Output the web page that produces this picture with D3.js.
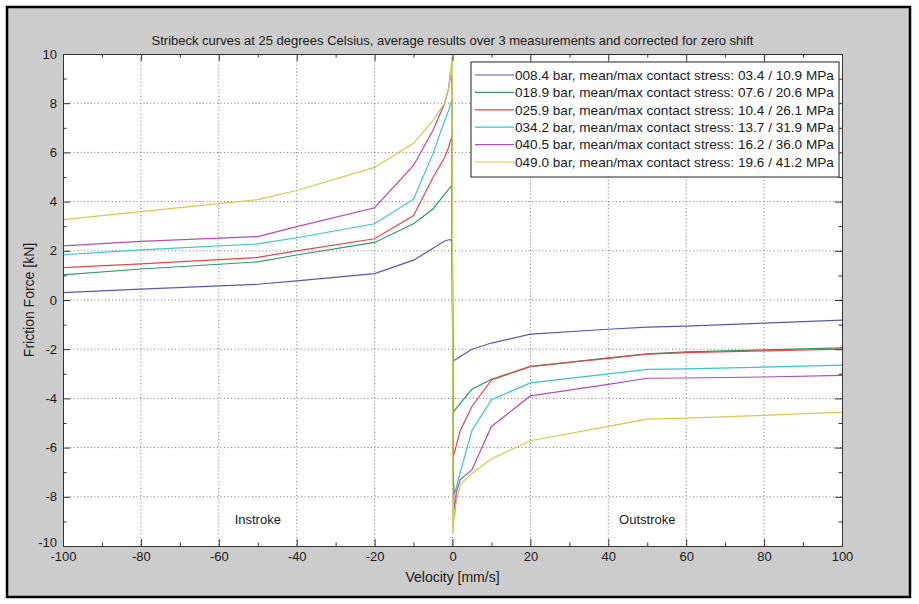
<!DOCTYPE html>
<html>
<head>
<meta charset="utf-8">
<script src="https://cdn.jsdelivr.net/npm/d3@7"></script>
<style>
  body { margin: 0; background: #fff; }
  svg text { font-family: "Liberation Sans", Arial, sans-serif; fill: #1a1a1a; }
</style>
</head>
<body>
<svg id="chart" width="919" height="604"></svg>
<script>
// measurement velocities [mm/s], shared by all six curves
var velocity = [-100, -80, -50, -40, -20, -10, -5, -2, -1, -0.5, -0.1,
                0.1, 0.5, 1, 2, 5, 10, 20, 40, 50, 60, 80, 100]

// friction force [kN] per pressure level
var f084 = [0.30, 0.44, 0.64, 0.78, 1.07, 1.62, 2.10, 2.40, 2.45, 2.45, 2.35,
            -2.45, -2.45, -2.40, -2.30, -2.00, -1.75, -1.39, -1.19, -1.10, -1.06, -0.94, -0.82]
var f189 = [1.02, 1.26, 1.55, 1.83, 2.34, 3.10, 3.70, 4.30, 4.50, 4.60, 4.65,
            -4.55, -4.50, -4.40, -4.20, -3.63, -3.22, -2.71, -2.35, -2.19, -2.11, -2.03, -1.95]
var f259 = [1.32, 1.47, 1.73, 2.00, 2.49, 3.43, 4.98, 5.80, 6.20, 6.50, 6.60,
            -6.40, -6.20, -5.90, -5.30, -4.33, -3.25, -2.70, -2.37, -2.20, -2.14, -2.07, -2.00]
var f342 = [1.84, 2.04, 2.28, 2.53, 3.10, 4.10, 5.95, 7.30, 7.70, 8.00, 8.10,
            -7.20, -7.90, -7.60, -7.00, -5.30, -4.05, -3.37, -3.00, -2.82, -2.80, -2.73, -2.65]
var f405 = [2.20, 2.38, 2.58, 2.98, 3.75, 5.47, 6.90, 8.00, 8.60, 9.30, 8.60,
            -6.50, -8.80, -7.80, -7.30, -6.90, -5.14, -3.90, -3.43, -3.18, -3.17, -3.13, -3.06]
var f490 = [3.27, 3.59, 4.08, 4.45, 5.39, 6.37, 7.30, 8.00, 8.60, 9.20, 9.90,
            -9.50, -8.60, -8.20, -7.50, -7.05, -6.45, -5.72, -5.14, -4.84, -4.80, -4.69, -4.56]

var legendLabels = [
  "008.4 bar, mean/max contact stress: 03.4 / 10.9 MPa",
  "018.9 bar, mean/max contact stress: 07.6 / 20.6 MPa",
  "025.9 bar, mean/max contact stress: 10.4 / 26.1 MPa",
  "034.2 bar, mean/max contact stress: 13.7 / 31.9 MPa",
  "040.5 bar, mean/max contact stress: 16.2 / 36.0 MPa",
  "049.0 bar, mean/max contact stress: 19.6 / 41.2 MPa"
]
var xTicks = [-100, -80, -60, -40, -20, 0, 20, 40, 60, 80, 100]
var yTicks = [-10, -8, -6, -4, -2, 0, 2, 4, 6, 8, 10]

var colors = ["#5858b4", "#2f9a62", "#e84646", "#35c6c6", "#b24cb6", "#cccc4c"]
var forces = [f084, f189, f259, f342, f405, f490]

var series = legendLabels.map(function(name, i) {
  return { name: name, color: colors[i],
           values: velocity.map(function(v, j) { return { v: v, f: forces[i][j] } }) }
})

var margin = { top: 54, left: 63 },
    width = 779,
    height = 492;

var x = d3.scaleLinear().domain([-100, 100]).range([0, width])
var y = d3.scaleLinear().domain([-10, 10]).range([height, 0])

// plain hyphen minus, like the original figure
var fmt = function(d) { return String(d) }

var svg = d3.select('#chart')

// figure frame
svg.append("rect")
  .attr("x", 7).attr("y", 7)
  .attr("width", 903).attr("height", 590)
  .style("fill", "#cccccc")
  .style("stroke", "#000")
  .style("stroke-width", 2.5)

svg.append("text")
  .attr("x", margin.left + width / 2)
  .attr("y", 45)
  .attr("text-anchor", "middle")
  .style("font-size", "13px")
  .text("Stribeck curves at 25 degrees Celsius, average results over 3 measurements and corrected for zero shift")

var g = svg.append("g").attr("transform", "translate(" + margin.left + "," + margin.top + ")")

g.append("rect")
  .attr("width", width).attr("height", height)
  .style("fill", "#fff")

// dotted grid
g.selectAll(".gx").data(xTicks.slice(1, -1)).enter().append("line")
  .attr("x1", function(d) { return x(d) }).attr("x2", function(d) { return x(d) })
  .attr("y1", 0).attr("y2", height)
  .style("stroke", "#777").style("stroke-dasharray", "1,2.5")
g.selectAll(".gy").data(yTicks.slice(1, -1)).enter().append("line")
  .attr("y1", function(d) { return y(d) }).attr("y2", function(d) { return y(d) })
  .attr("x1", 0).attr("x2", width)
  .style("stroke", "#777").style("stroke-dasharray", "1,2.5")

var line = d3.line()
  .x(function(d) { return x(d.v) })
  .y(function(d) { return y(d.f) })

g.selectAll(".curve").data(series).enter().append("path")
  .attr("d", function(d) { return line(d.values) })
  .style("fill", "none")
  .style("stroke", function(d) { return d.color })
  .style("stroke-width", 1.2)

g.append("text").attr("x", x(-50)).attr("y", y(-9.1)).attr("text-anchor", "middle")
  .style("font-size", "13px").text("Instroke")
g.append("text").attr("x", x(50)).attr("y", y(-9.1)).attr("text-anchor", "middle")
  .style("font-size", "13px").text("Outstroke")

// axes, ticks pointing inward on all four sides
var xMinor = d3.range(-90, 100, 20)
var yMinor = d3.range(-9, 10, 2)

function styleAxis(sel) {
  sel.selectAll("path, line").style("stroke", "#333")
  sel.selectAll("text").style("font-size", "13px").style("fill", "#1a1a1a")
    .style("font-family", "Liberation Sans, Arial, sans-serif")
}

g.append("g").attr("transform", "translate(0," + height + ")")
  .call(d3.axisBottom(x).tickValues(xTicks).tickFormat(fmt).tickSizeInner(-7).tickSizeOuter(0).tickPadding(6))
  .call(styleAxis)
g.append("g").attr("transform", "translate(0," + height + ")")
  .call(d3.axisBottom(x).tickValues(xMinor).tickSizeInner(-3.5).tickSizeOuter(0).tickFormat(""))
  .call(styleAxis)
g.append("g")
  .call(d3.axisTop(x).tickValues(xTicks).tickSizeInner(-7).tickSizeOuter(0).tickFormat(""))
  .call(styleAxis)
g.append("g")
  .call(d3.axisTop(x).tickValues(xMinor).tickSizeInner(-3.5).tickSizeOuter(0).tickFormat(""))
  .call(styleAxis)

var yAxis = g.append("g")
  .call(d3.axisLeft(y).tickValues(yTicks).tickFormat(fmt).tickSizeInner(-7).tickSizeOuter(0).tickPadding(6))
  .call(styleAxis)
// lift the bottom label a little so it sits above "-100"
yAxis.selectAll(".tick text").filter(function(d) { return d === -10 }).attr("y", -4)

g.append("g")
  .call(d3.axisLeft(y).tickValues(yMinor).tickSizeInner(-3.5).tickSizeOuter(0).tickFormat(""))
  .call(styleAxis)
g.append("g").attr("transform", "translate(" + width + ",0)")
  .call(d3.axisRight(y).tickValues(yTicks).tickSizeInner(-7).tickSizeOuter(0).tickFormat(""))
  .call(styleAxis)
g.append("g").attr("transform", "translate(" + width + ",0)")
  .call(d3.axisRight(y).tickValues(yMinor).tickSizeInner(-3.5).tickSizeOuter(0).tickFormat(""))
  .call(styleAxis)

svg.append("text")
  .attr("x", margin.left + width / 2)
  .attr("y", 582)
  .attr("text-anchor", "middle")
  .style("font-size", "14px")
  .text("Velocity [mm/s]")

svg.append("text")
  .attr("transform", "translate(34," + (margin.top + height / 2) + ") rotate(-90)")
  .attr("text-anchor", "middle")
  .style("font-size", "14px")
  .text("Friction Force [kN]")

// legend
var legend = svg.append("g").attr("transform", "translate(471,62)")
legend.append("rect")
  .attr("width", 368).attr("height", 115)
  .style("fill", "#fff").style("stroke", "#222").style("stroke-width", 1)

var rows = legend.selectAll(".row").data(series).enter().append("g")
  .attr("transform", function(d, i) { return "translate(0," + (13 + i * 17.4) + ")" })
rows.append("line")
  .attr("x1", 4).attr("x2", 43)
  .style("stroke", function(d) { return d.color }).style("stroke-width", 1.2)
rows.append("text")
  .attr("x", 44).attr("dy", "0.35em")
  .style("font-size", "13.6px")
  .text(function(d) { return d.name })
</script>
</body>
</html>
